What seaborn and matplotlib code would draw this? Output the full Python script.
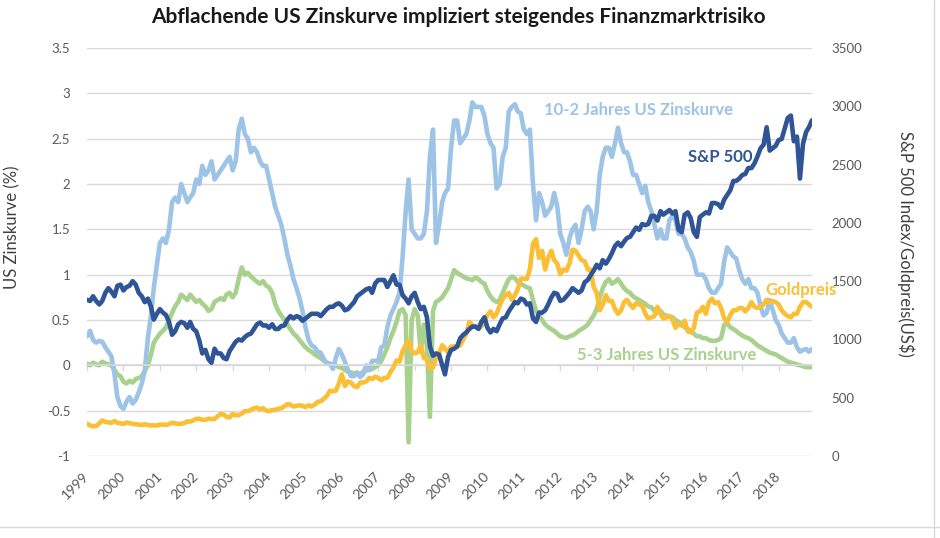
import numpy as np
import pandas as pd
import matplotlib
matplotlib.use('Agg')
import matplotlib.pyplot as plt
import seaborn as sns
from matplotlib.lines import Line2D

# monthly points, May 1999 .. Apr 2019
dates = pd.date_range('1999-05-01', '2019-04-01', freq='MS')
year_labels = [str(y) for y in range(1999, 2019)]

left_ticks = [-1, -0.5, 0, 0.5, 1, 1.5, 2, 2.5, 3, 3.5]
left_labels = ['-1', '-0.5', '0', '0.5', '1', '1.5', '2', '2.5', '3', '3.5']
right_ticks = [0, 500, 1000, 1500, 2000, 2500, 3000, 3500]

spread_10_2 = [
    0.32, 0.38, 0.28, 0.25, 0.27, 0.26, 0.20, 0.15,  # 1999
    0.10, -0.10, -0.35, -0.45, -0.48, -0.40, -0.35, -0.42, -0.38, -0.30, -0.20, -0.05,  # 2000
    0.30, 0.55, 0.85, 1.10, 1.35, 1.40, 1.35, 1.50, 1.80, 1.85, 1.80, 2.00,  # 2001
    1.90, 1.80, 1.85, 1.90, 2.05, 2.00, 2.20, 2.10, 2.15, 2.25, 2.05, 2.10,  # 2002
    2.15, 2.20, 2.25, 2.30, 2.15, 2.25, 2.60, 2.72, 2.55, 2.50, 2.35, 2.40,  # 2003
    2.35, 2.25, 2.20, 2.20, 2.05, 1.90, 1.75, 1.65, 1.55, 1.40, 1.22, 1.10,  # 2004
    0.95, 0.85, 0.75, 0.60, 0.42, 0.28, 0.22, 0.20, 0.15, 0.14, 0.07, 0.02,  # 2005
    0.02, -0.04, 0.08, 0.18, 0.12, 0.04, -0.05, -0.12, -0.12, -0.08, -0.13, -0.10,  # 2006
    0.00, -0.05, 0.05, 0.05, 0.05, 0.20, 0.22, 0.42, 0.55, 0.62, 0.70, 0.80,  # 2007
    1.20, 1.70, 2.05, 1.50, 1.45, 1.40, 1.40, 1.45, 1.70, 2.30, 2.60, 1.35,  # 2008
    1.55, 1.80, 1.90, 1.95, 2.40, 2.70, 2.70, 2.45, 2.50, 2.55, 2.70, 2.90,  # 2009
    2.85, 2.85, 2.85, 2.75, 2.55, 2.45, 2.40, 1.95, 2.00, 2.30, 2.40, 2.80,  # 2010
    2.85, 2.88, 2.80, 2.78, 2.60, 2.55, 2.60, 2.00, 1.60, 1.90, 1.80, 1.65,  # 2011
    1.70, 1.75, 1.90, 1.75, 1.45, 1.35, 1.22, 1.40, 1.50, 1.55, 1.35, 1.50,  # 2012
    1.70, 1.75, 1.70, 1.50, 1.70, 2.10, 2.30, 2.40, 2.40, 2.30, 2.45, 2.62,  # 2013
    2.45, 2.35, 2.35, 2.25, 2.10, 2.10, 2.00, 1.90, 1.98, 1.80, 1.70, 1.55,  # 2014
    1.40, 1.50, 1.40, 1.40, 1.60, 1.65, 1.60, 1.45, 1.45, 1.40, 1.30, 1.25,  # 2015
    1.15, 1.00, 1.00, 1.00, 0.95, 0.85, 0.80, 0.80, 0.85, 0.90, 1.15, 1.30,  # 2016
    1.25, 1.20, 1.18, 1.05, 0.95, 0.90, 0.95, 0.85, 0.85, 0.80, 0.65, 0.55,  # 2017
    0.58, 0.72, 0.62, 0.50, 0.45, 0.35, 0.30, 0.25, 0.25, 0.30, 0.20, 0.15,  # 2018
    0.17, 0.18, 0.15, 0.18,  # 2019
]

spread_5_3 = [
    0.02, 0.00, 0.03, 0.01, 0.00, 0.04, 0.02, 0.01,  # 1999
    0.00, -0.05, -0.10, -0.12, -0.18, -0.20, -0.17, -0.19, -0.15, -0.14, -0.12, -0.06,  # 2000
    0.00, 0.12, 0.25, 0.30, 0.35, 0.38, 0.42, 0.50, 0.58, 0.65, 0.70, 0.78,  # 2001
    0.75, 0.72, 0.78, 0.74, 0.70, 0.72, 0.68, 0.65, 0.60, 0.62, 0.70, 0.72,  # 2002
    0.74, 0.72, 0.78, 0.80, 0.75, 0.80, 0.95, 1.08, 1.00, 1.02, 0.98, 0.95,  # 2003
    0.92, 0.90, 0.93, 0.88, 0.86, 0.80, 0.68, 0.60, 0.55, 0.50, 0.45, 0.40,  # 2004
    0.35, 0.32, 0.28, 0.24, 0.20, 0.17, 0.15, 0.12, 0.10, 0.08, 0.05, 0.03,  # 2005
    0.02, 0.00, 0.00, -0.02, -0.03, -0.05, -0.07, -0.08, -0.09, -0.08, -0.10, -0.07,  # 2006
    -0.06, -0.05, -0.04, -0.02, 0.00, 0.05, 0.12, 0.20, 0.30, 0.38, 0.48, 0.60,  # 2007
    0.62, 0.55, -0.85, 0.50, 0.62, 0.55, 0.15, 0.45, 0.20, -0.57, 0.60, 0.70,  # 2008
    0.72, 0.75, 0.80, 0.85, 0.95, 1.05, 1.02, 1.00, 0.98, 0.96, 0.95, 0.94,  # 2009
    0.97, 0.95, 0.92, 0.90, 0.82, 0.76, 0.72, 0.70, 0.72, 0.80, 0.88, 0.95,  # 2010
    0.98, 0.96, 0.92, 0.90, 0.88, 0.86, 0.85, 0.72, 0.60, 0.55, 0.50, 0.45,  # 2011
    0.42, 0.40, 0.38, 0.35, 0.32, 0.31, 0.30, 0.32, 0.33, 0.35, 0.38, 0.40,  # 2012
    0.42, 0.45, 0.50, 0.55, 0.62, 0.75, 0.85, 0.92, 0.95, 0.90, 0.92, 0.95,  # 2013
    0.90, 0.85, 0.82, 0.80, 0.76, 0.74, 0.72, 0.70, 0.68, 0.65, 0.64, 0.60,  # 2014
    0.58, 0.60, 0.56, 0.55, 0.54, 0.53, 0.50, 0.48, 0.45, 0.42, 0.40, 0.38,  # 2015
    0.35, 0.32, 0.32, 0.30, 0.30, 0.28, 0.27, 0.27, 0.28, 0.30, 0.45, 0.46,  # 2016
    0.42, 0.40, 0.38, 0.35, 0.33, 0.31, 0.30, 0.28, 0.25, 0.22, 0.20, 0.18,  # 2017
    0.16, 0.14, 0.13, 0.12, 0.10, 0.08, 0.06, 0.04, 0.03, 0.02, 0.01, 0.00,  # 2018
    -0.01, -0.02, -0.02, -0.02,  # 2019
]

sp500 = [
    1340, 1330, 1370, 1330, 1300, 1330, 1400, 1440,  # 1999
    1410, 1370, 1460, 1470, 1420, 1450, 1460, 1500, 1470, 1400, 1370, 1320,  # 2000
    1350, 1280, 1170, 1220, 1260, 1230, 1210, 1150, 1040, 1070, 1130, 1150,  # 2001
    1140, 1100, 1150, 1090, 1070, 990, 880, 910, 830, 800, 920, 880,  # 2002
    880, 840, 830, 900, 940, 980, 1000, 990, 1020, 1040, 1050, 1090,  # 2003
    1130, 1145, 1120, 1120, 1100, 1130, 1090, 1090, 1115, 1120, 1170, 1200,  # 2004
    1180, 1200, 1190, 1160, 1180, 1200, 1220, 1220, 1220, 1200, 1230, 1260,  # 2005
    1280, 1280, 1300, 1310, 1290, 1250, 1260, 1290, 1320, 1370, 1390, 1410,  # 2006
    1430, 1440, 1400, 1480, 1510, 1510, 1510, 1450, 1500, 1550, 1470, 1470,  # 2007
    1380, 1350, 1310, 1370, 1400, 1320, 1260, 1280, 1190, 940, 860, 880,  # 2008
    870, 780, 700, 850, 910, 920, 940, 1010, 1040, 1060, 1090, 1110,  # 2009
    1110, 1090, 1150, 1190, 1100, 1060, 1090, 1070, 1130, 1180, 1190, 1240,  # 2010
    1280, 1320, 1310, 1350, 1340, 1300, 1310, 1180, 1150, 1230, 1230, 1250,  # 2011
    1300, 1360, 1400, 1390, 1330, 1340, 1370, 1400, 1440, 1420, 1400, 1420,  # 2012
    1490, 1510, 1550, 1590, 1640, 1610, 1680, 1650, 1690, 1740, 1800, 1830,  # 2013
    1800, 1840, 1870, 1880, 1920, 1960, 1940, 1990, 1980, 1990, 2060, 2060,  # 2014
    2020, 2100, 2070, 2090, 2110, 2080, 2100, 1940, 1920, 2070, 2090, 2040,  # 2015
    1920, 1880, 2050, 2070, 2090, 2080, 2170, 2170, 2160, 2130, 2200, 2240,  # 2016
    2280, 2360, 2360, 2380, 2410, 2420, 2470, 2470, 2510, 2570, 2640, 2670,  # 2017
    2820, 2620, 2640, 2660, 2710, 2720, 2810, 2900, 2920, 2700, 2740, 2380,  # 2018
    2680, 2780, 2820, 2880,  # 2019
]

gold = [
    277, 262, 255, 257, 280, 305, 292, 288,  # 1999
    285, 300, 285, 280, 275, 287, 282, 275, 272, 270, 266, 272,  # 2000
    266, 262, 263, 261, 270, 270, 267, 273, 285, 280, 275, 277,  # 2001
    282, 297, 295, 305, 318, 320, 310, 310, 320, 317, 318, 340,  # 2002
    360, 355, 335, 330, 360, 350, 350, 365, 385, 385, 395, 410,  # 2003
    415, 400, 410, 390, 385, 395, 395, 405, 410, 425, 445, 440,  # 2004
    425, 430, 435, 430, 420, 435, 425, 440, 465, 470, 490, 515,  # 2005
    560, 555, 560, 620, 700, 600, 640, 630, 600, 590, 630, 630,  # 2006
    640, 670, 660, 680, 670, 650, 670, 670, 720, 760, 820, 810,  # 2007
    900, 950, 990, 900, 880, 890, 950, 840, 830, 750, 760, 840,  # 2008
    880, 950, 920, 890, 940, 940, 940, 950, 1000, 1050, 1150, 1120,  # 2009
    1110, 1100, 1110, 1150, 1210, 1240, 1190, 1220, 1290, 1350, 1380, 1400,  # 2010
    1340, 1380, 1430, 1520, 1520, 1520, 1600, 1820, 1860, 1700, 1760, 1600,  # 2011
    1700, 1760, 1680, 1650, 1560, 1600, 1590, 1650, 1770, 1760, 1720, 1680,  # 2012
    1670, 1600, 1600, 1450, 1400, 1250, 1300, 1380, 1330, 1330, 1260, 1220,  # 2013
    1250, 1320, 1340, 1300, 1270, 1310, 1300, 1290, 1220, 1180, 1190, 1200,  # 2014
    1280, 1220, 1180, 1190, 1200, 1170, 1100, 1130, 1120, 1160, 1070, 1060,  # 2015
    1100, 1230, 1240, 1280, 1220, 1320, 1350, 1310, 1320, 1270, 1180, 1150,  # 2016
    1210, 1250, 1250, 1270, 1270, 1240, 1270, 1320, 1280, 1270, 1280, 1300,  # 2017
    1340, 1320, 1330, 1320, 1300, 1250, 1220, 1200, 1190, 1220, 1220, 1280,  # 2018
    1320, 1320, 1300, 1280,  # 2019
]

df = pd.DataFrame({'date': dates, 's102': spread_10_2, 's53': spread_5_3,
                   'sp500': sp500, 'gold': gold})

LIGHT = '#9DC3E6'
GREEN = '#A9D18E'
NAVY = '#2F5597'
GOLD = '#FBBF36'
GRID = '#D9D9D9'
TXT = '#595959'

sns.set_theme(style='white')
plt.rcParams['font.family'] = ['Lato', 'DejaVu Sans']

fig, ax = plt.subplots(figsize=(9.4, 5.38), dpi=100)
fig.subplots_adjust(left=87/940, right=812/940, top=1-48/538, bottom=1-456/538)

sns.lineplot(data=df, x='date', y='s53', ax=ax, color=GREEN, lw=3.3)
sns.lineplot(data=df, x='date', y='s102', ax=ax, color=LIGHT, lw=3.3)

ax2 = ax.twinx()
sns.lineplot(data=df, x='date', y='gold', ax=ax2, color=GOLD, lw=3.3)
sns.lineplot(data=df, x='date', y='sp500', ax=ax2, color=NAVY, lw=3.3)

ax.set_xlim(dates[0], dates[-1])
ax.set_ylim(-1, 3.5)
ax2.set_ylim(0, 3500)
ax.set_yticks(left_ticks)
ax.set_yticklabels(left_labels)
ax2.set_yticks(right_ticks)
ax.set_xticks(dates[::12])
ax.set_xticklabels(year_labels)

ax.grid(axis='y', color=GRID, lw=1)
ax.set_axisbelow(True)
for s in ['top', 'left', 'right']:
    ax.spines[s].set_visible(False)
for s in ax2.spines.values():
    s.set_visible(False)
ax.spines['bottom'].set_position(('data', 0))
ax.spines['bottom'].set_color(GRID)
ax.tick_params(axis='x', bottom=True, length=4, width=1, color=GRID, labelbottom=False)
ax.tick_params(axis='y', length=0, labelsize=9.5, labelcolor=TXT, pad=12)
ax2.tick_params(axis='y', length=0, labelsize=9.5, labelcolor=TXT, pad=14)

# year labels drawn on the twin's x axis at the bottom edge
ax2.xaxis.set_visible(True)
ax2.tick_params(axis='x', bottom=True, top=False, length=0, labelbottom=True,
                labelsize=10, labelcolor=TXT, pad=13)
for lbl in ax2.get_xticklabels():
    lbl.set_rotation(45)
    lbl.set_ha('right')
    lbl.set_va('center')
    lbl.set_rotation_mode('anchor')

ax.set_xlabel('')
ax2.set_xlabel('')
ax.set_ylabel('US Zinskurve (%)', fontsize=12, color='#404040')
ax.yaxis.set_label_coords(-0.092, 0.56)
ax2.set_ylabel('S&P 500 Index/Goldpreis(US$)', fontsize=12, color='#404040',
               rotation=270, va='center', ha='center')
ax2.yaxis.set_label_coords(1.13, 0.52)

fig.suptitle('Abflachende US Zinskurve impliziert steigendes Finanzmarktrisiko',
             x=458/940, y=1-17/538, va='center', fontsize=15, fontweight='bold',
             color='#1a1a1a')

kw = dict(transform=ax2.transAxes, fontsize=12, fontweight='bold',
          ha='center', va='center', zorder=10, clip_on=False)
ax2.text(0.761, 0.848, '10-2 Jahres US Zinskurve', color=LIGHT, **kw)
ax2.text(0.873, 0.733, 'S&P 500', color=NAVY, **kw)
ax2.text(0.985, 0.407, 'Goldpreis', color=GOLD, **kw)
ax2.text(0.80, 0.248, '5-3 Jahres US Zinskurve', color=GREEN, **kw)

# light frame lines of the original screenshot
fig.add_artist(Line2D([934/940, 934/940], [0, 1], color=GRID, lw=1))
fig.add_artist(Line2D([0, 1], [1-527/538, 1-527/538], color=GRID, lw=1))

fig.savefig('out.png', dpi=100)
